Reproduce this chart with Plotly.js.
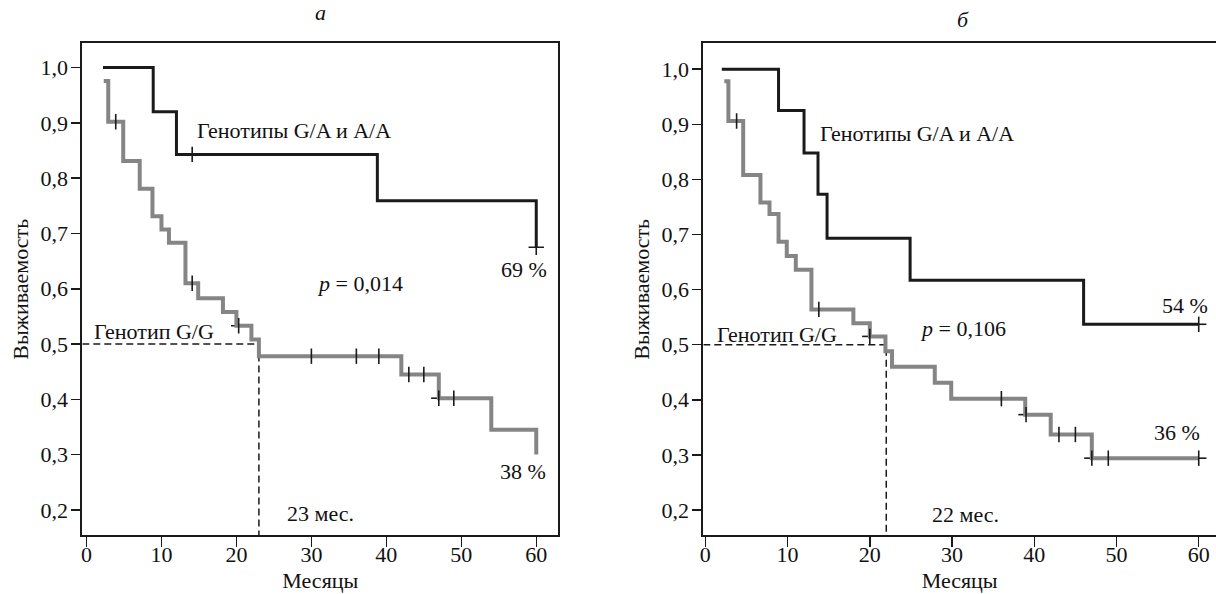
<!DOCTYPE html>
<html>
<head>
<meta charset="utf-8">
<script src="https://cdn.plot.ly/plotly-3.0.1.min.js"></script>
<style>html,body{margin:0;padding:0;background:#fff;}#chart{width:1216px;height:594px;}</style>
</head>
<body>
<div id="chart"></div>
<script>
// ---------- Data ----------
const panelTitles = ['а', 'б'];
const labelGA = 'Генотипы G/A и A/A';
const labelGG = 'Генотип G/G';

// Panel "а"
const a_gaTime = [2.2, 8.9, 12.0, 38.8, 60.0];
const a_gaSurv = [1.000, 0.920, 0.843, 0.759, 0.675];
const a_gaCens = [14.1, 60.0];

const a_ggTime = [2.3, 2.9, 4.9, 7.1, 8.8, 10.0, 11.0, 13.2, 14.9, 18.2, 20.0, 22.0, 23.0, 42.0, 47.0, 54.0, 60.0];
const a_ggSurv = [0.976, 0.902, 0.831, 0.781, 0.731, 0.707, 0.683, 0.610, 0.583, 0.558, 0.533, 0.508, 0.478, 0.445, 0.402, 0.345, 0.300];
const a_ggCens = [3.9, 14.1, 20.3, 30.0, 36.0, 39.0, 43.0, 45.0, 47.0, 49.0];

// Panel "б"
const b_gaTime = [2.0, 8.9, 12.0, 13.7, 14.8, 24.9, 46.0, 60.0];
const b_gaSurv = [1.000, 0.925, 0.848, 0.773, 0.693, 0.617, 0.537, 0.537];
const b_gaCens = [60.0];

const b_ggTime = [2.3, 2.8, 4.6, 6.7, 7.8, 8.9, 9.9, 11.0, 12.9, 18.0, 20.0, 21.9, 22.7, 27.9, 29.9, 38.9, 42.0, 47.0, 60.0];
const b_ggSurv = [0.978, 0.906, 0.808, 0.758, 0.737, 0.687, 0.661, 0.636, 0.564, 0.539, 0.515, 0.488, 0.460, 0.431, 0.402, 0.373, 0.337, 0.294, 0.294];
const b_ggCens = [3.8, 13.8, 20.0, 36.0, 39.0, 43.0, 45.0, 47.0, 49.0, 60.0];

const medianLevel = 0.5;
const medians = [23, 22];
const medianLabels = ['23 мес.', '22 мес.'];
const pValues = ['0,014', '0,106'];
const endLabelsGA = ['69 %', '54 %'];
const endLabelsGG = ['38 %', '36 %'];

const xTitle = 'Месяцы';
const yTitle = 'Выживаемость';

// ---------- Styles ----------
const FONT = 'Liberation Serif, Times New Roman, DejaVu Serif, serif';
const BLACK = '#1a1a1a';
const GRAY = '#858585';
const xRanges = [[-0.56, 62.94], [-0.25, 62.1]];
const yRanges = [[0.154, 1.044], [0.154, 1.047]];

function survAt(times, vals, t) {
  let v = vals[0];
  for (let i = 0; i < times.length; i++) if (times[i] <= t + 1e-9) v = vals[i];
  return v;
}

function curveTraces(times, surv, cens, color, width, xa, ya) {
  const cy = cens.map(t => survAt(times, surv, t));
  return [
    {x: cens, y: cy, xaxis: xa, yaxis: ya, mode: 'markers', type: 'scatter',
     marker: {symbol: 'line-ew', size: 11, color: BLACK, line: {width: 1.6, color: BLACK}}, hoverinfo: 'skip'},
    {x: times, y: surv, xaxis: xa, yaxis: ya, mode: 'lines', type: 'scatter',
     line: {shape: 'hv', color: color, width: width}, hoverinfo: 'skip'},
    {x: cens, y: cy, xaxis: xa, yaxis: ya, mode: 'markers', type: 'scatter',
     marker: {symbol: 'line-ns', size: 11, color: BLACK, line: {width: 1.6, color: BLACK}}, hoverinfo: 'skip'}
  ];
}

function medianTrace(i, xa, ya) {
  return {x: [xRanges[i][0], medians[i], medians[i]], y: [medianLevel, medianLevel, yRanges[i][0]],
          xaxis: xa, yaxis: ya, mode: 'lines', type: 'scatter',
          line: {color: BLACK, width: 1.5, dash: '7px,4px'}, hoverinfo: 'skip'};
}

const traces = [].concat(
  [medianTrace(0, 'x', 'y')],
  curveTraces(a_ggTime, a_ggSurv, a_ggCens, GRAY, 4, 'x', 'y'),
  curveTraces(a_gaTime, a_gaSurv, a_gaCens, BLACK, 3, 'x', 'y'),
  [medianTrace(1, 'x2', 'y2')],
  curveTraces(b_ggTime, b_ggSurv, b_ggCens, GRAY, 4, 'x2', 'y2'),
  curveTraces(b_gaTime, b_gaSurv, b_gaCens, BLACK, 3, 'x2', 'y2')
);

const tickFont = {family: FONT, size: 22, color: '#111'};
function xAxis(i, domain, anchor) {
  return {domain: domain, anchor: anchor, range: xRanges[i], tick0: 0, dtick: 10,
    showline: true, linecolor: BLACK, linewidth: 2, mirror: true,
    ticks: 'outside', ticklen: 10, tickwidth: 1.5, tickcolor: BLACK, ticklabelstandoff: -12,
    showgrid: false, zeroline: false, tickfont: tickFont,
    title: {text: xTitle, font: tickFont, standoff: 7}};
}
function yAxis(i, domain, anchor, mirror) {
  return {domain: domain, anchor: anchor, range: yRanges[i], tick0: 0, dtick: 0.1, tickformat: '.1f',
    showline: true, linecolor: BLACK, linewidth: 2, mirror: mirror,
    ticks: 'outside', ticklen: 9, tickwidth: 1.5, tickcolor: BLACK, ticklabelstandoff: -1,
    showgrid: false, zeroline: false, tickfont: tickFont,
    title: {text: yTitle, font: tickFont, standoff: 6}};
}

const tf = {family: FONT, size: 22, color: '#111'};
function ann(xref, yref, x, y, text, xanchor) {
  return {xref: xref, yref: yref, x: x, y: y, text: text, showarrow: false, xanchor: xanchor || 'left', yanchor: 'middle', font: tf};
}

const annotations = [
  ann('x', 'y', 14.5, 0.887, labelGA),
  ann('x', 'y', 0.7, 0.522, labelGG),
  ann('x', 'y', 30.5, 0.610, '<i>p</i> = ' + pValues[0]),
  ann('x', 'y', 58.3, 0.634, endLabelsGA[0], 'center'),
  ann('x', 'y', 58.2, 0.269, endLabelsGG[0], 'center'),
  ann('x', 'y', 26.5, 0.194, medianLabels[0]),
  ann('x2', 'y2', 13.7, 0.884, labelGA),
  ann('x2', 'y2', 1.2, 0.518, labelGG),
  ann('x2', 'y2', 25.9, 0.530, '<i>p</i> = ' + pValues[1]),
  ann('x2', 'y2', 58.3, 0.571, endLabelsGA[1], 'center'),
  ann('x2', 'y2', 57.3, 0.340, endLabelsGG[1], 'center'),
  ann('x2', 'y2', 27.3, 0.191, medianLabels[1]),
  {xref: 'paper', yref: 'paper', x: 320 / 1216, y: 1 - 12 / 594, text: '<i>' + panelTitles[0] + '</i>', showarrow: false, xanchor: 'center', yanchor: 'middle', font: tf},
  {xref: 'paper', yref: 'paper', x: 963 / 1216, y: 1 - 20 / 594, text: '<i>' + panelTitles[1] + '</i>', showarrow: false, xanchor: 'center', yanchor: 'middle', font: tf}
];

const yDom = [1 - 535.3 / 594, 1 - 43.3 / 594];
const layout = {
  width: 1216, height: 594,
  margin: {l: 0, r: 0, t: 0, b: 0},
  paper_bgcolor: '#fff', plot_bgcolor: '#fff',
  showlegend: false,
  separators: ', ',
  font: {family: FONT, size: 22, color: '#111'},
  xaxis: xAxis(0, [82.3 / 1216, 558.3 / 1216], 'y'),
  yaxis: yAxis(0, yDom, 'x', true),
  xaxis2: xAxis(1, [703.3 / 1216, 1], 'y2'),
  yaxis2: yAxis(1, yDom, 'x2', false),
  annotations: annotations
};

Plotly.newPlot('chart', traces, layout, {staticPlot: true, displayModeBar: false});
</script>
</body>
</html>
